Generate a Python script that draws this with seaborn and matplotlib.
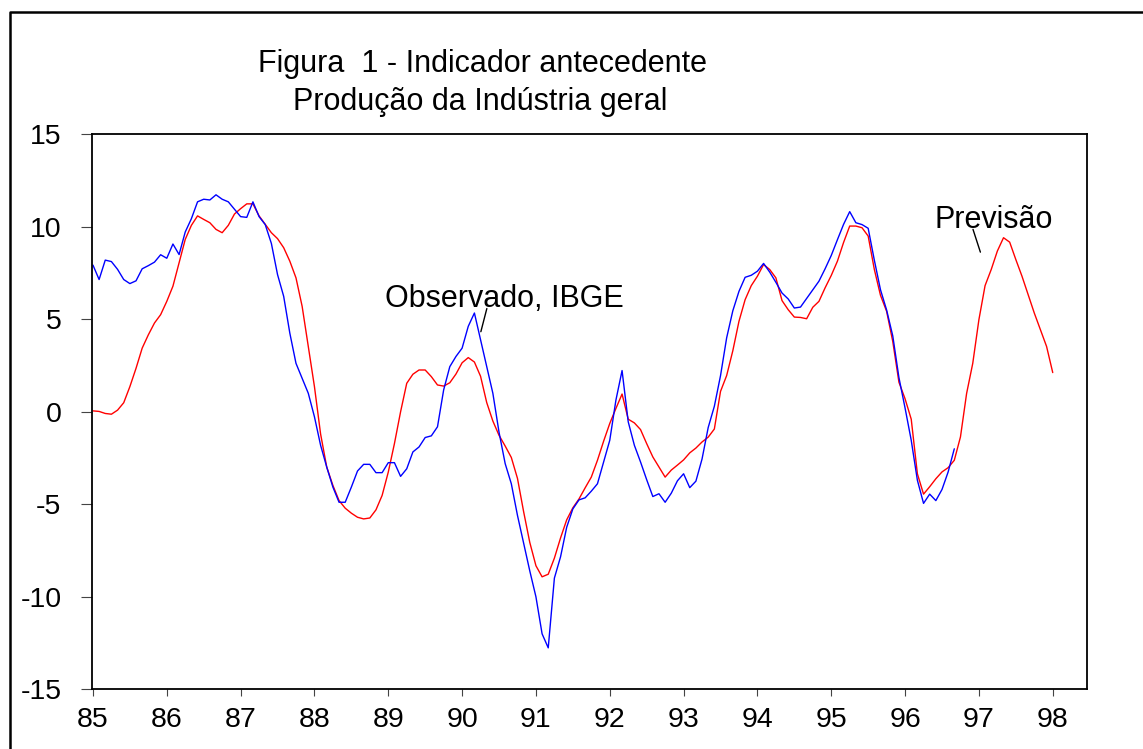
import numpy as np
import pandas as pd
import matplotlib
matplotlib.use("Agg")
import matplotlib.pyplot as plt
import seaborn as sns
from matplotlib.lines import Line2D

# ---- data (monthly, starting Jan 1985) ----
observado = [
    7.93, 7.15, 8.20, 8.12, 7.70, 7.15, 6.93, 7.08, 7.73, 7.90, 8.09, 8.49,
    8.30, 9.07, 8.50, 9.72, 10.44, 11.35, 11.49, 11.45, 11.73, 11.49, 11.35, 10.95,
    10.55, 10.51, 11.35, 10.55, 10.12, 9.10, 7.42, 6.24, 4.25, 2.62, 1.81, 1.00,
    -0.27, -1.81, -2.99, -4.07, -4.89, -4.89, -4.07, -3.20, -2.84, -2.84, -3.29, -3.29,
    -2.75, -2.75, -3.49, -3.08, -2.17, -1.90, -1.39, -1.30, -0.81, 1.18, 2.44, 2.99,
    3.44, 4.62, 5.34, 3.89, 2.44, 1.00, -1.10, -2.80, -3.89, -5.60, -7.10, -8.60,
    -10.00, -12.00, -12.76, -8.99, -7.84, -6.24, -5.25, -4.76, -4.65, -4.29, -3.89, -2.71,
    -1.54, 0.63, 2.23, -0.54, -1.81, -2.71, -3.67, -4.58, -4.43, -4.89, -4.40, -3.73,
    -3.35, -4.10, -3.75, -2.55, -0.85, 0.30, 1.95, 4.00, 5.46, 6.51, 7.27, 7.38,
    7.60, 8.02, 7.55, 7.00, 6.42, 6.10, 5.61, 5.66, 6.13, 6.60, 7.06, 7.73,
    8.45, 9.30, 10.13, 10.82, 10.22, 10.12, 9.92, 8.20, 6.60, 5.50, 4.10, 1.85,
    0.20, -1.54, -3.70, -4.95, -4.45, -4.80, -4.20, -3.25, -2.00,
]
previsao = [
    0.05, 0.02, -0.09, -0.13, 0.09, 0.49, 1.36, 2.35, 3.44, 4.16, 4.80, 5.25,
    5.97, 6.79, 8.05, 9.32, 10.08, 10.59, 10.40, 10.22, 9.86, 9.68, 10.08, 10.69,
    10.98, 11.24, 11.24, 10.59, 10.13, 9.68, 9.36, 8.87, 8.14, 7.24, 5.70, 3.53,
    1.36, -1.20, -2.99, -3.98, -4.80, -5.21, -5.48, -5.70, -5.79, -5.74, -5.30, -4.52,
    -3.26, -1.72, 0.00, 1.54, 2.03, 2.26, 2.26, 1.90, 1.45, 1.39, 1.57, 2.04,
    2.65, 2.93, 2.69, 1.92, 0.50, -0.50, -1.27, -1.85, -2.47, -3.60, -5.40, -7.06,
    -8.32, -8.92, -8.78, -7.91, -6.82, -5.84, -5.19, -4.71, -4.11, -3.53, -2.62, -1.59,
    -0.63, 0.18, 0.96, -0.40, -0.60, -0.96, -1.72, -2.44, -2.99, -3.53, -3.15, -2.88,
    -2.60, -2.22, -1.96, -1.63, -1.37, -0.93, 1.10, 1.96, 3.30, 4.89, 6.06, 6.82,
    7.33, 7.96, 7.69, 7.24, 6.01, 5.52, 5.12, 5.10, 5.03, 5.65, 5.97, 6.70,
    7.37, 8.14, 9.15, 10.04, 10.04, 9.95, 9.50, 7.70, 6.30, 5.43, 3.80, 1.60,
    0.70, -0.40, -3.35, -4.45, -4.05, -3.62, -3.25, -3.02, -2.62, -1.36, 0.99, 2.62,
    4.98, 6.82, 7.69, 8.69, 9.41, 9.17, 8.23, 7.33, 6.33, 5.34, 4.43, 3.53,
    2.12,
]
start_year = 85
year_ticks = list(range(85, 99))
year_labels = [str(y) for y in year_ticks]
y_ticks = [-15, -10, -5, 0, 5, 10, 15]

title_1 = "Figura  1 - Indicador antecedente"
title_2 = "Produção da Indústria geral"
label_obs = "Observado, IBGE"
label_prev = "Previsão"

df_obs = pd.DataFrame({"t": start_year + np.arange(len(observado)) / 12.0, "v": observado})
df_prev = pd.DataFrame({"t": start_year + np.arange(len(previsao)) / 12.0, "v": previsao})

sns.set_theme(style="white")
plt.rcParams["font.family"] = ["Liberation Sans", "DejaVu Sans"]
plt.rcParams["text.color"] = "black"
plt.rcParams["xtick.color"] = "black"
plt.rcParams["ytick.color"] = "black"
plt.rcParams["axes.labelcolor"] = "black"

W, H = 1143, 749
fig = plt.figure(figsize=(W / 100, H / 100), dpi=100)
ax = fig.add_axes([91.7 / W, 1 - 689.3 / H, (1086.7 - 91.7) / W, (689.3 - 134.3) / H])

sns.lineplot(data=df_prev, x="t", y="v", ax=ax, color="#ff0000", lw=1.0, legend=False)
sns.lineplot(data=df_obs, x="t", y="v", ax=ax, color="#0000ff", lw=1.0, legend=False)

ax.set_xlim(84.983, 98.46)
ax.set_ylim(-15, 15)
ax.set_xticks(year_ticks)
ax.set_xticklabels(year_labels)
ax.set_yticks(y_ticks)
ax.set_yticklabels([str(v) for v in y_ticks])
ax.set_xlabel("")
ax.set_ylabel("")
for s in ax.spines.values():
    s.set_color("black")
    s.set_linewidth(1.3)
ax.tick_params(axis="x", direction="out", length=5, width=0.8, color="#444444",
               labelcolor="black", labelsize=20.5, pad=8, bottom=True)
ax.tick_params(axis="y", direction="out", length=7.7, width=0.8, color="#444444",
               labelcolor="black", labelsize=20.5, pad=14, left=True)

# annotations
ax.text(88.95, 5.68, label_obs, fontsize=22, ha="left", va="baseline", color="black")
ax.plot([90.335, 90.254], [5.58, 4.33], color="black", lw=1.0)
ax.text(96.40, 9.92, label_prev, fontsize=22, ha="left", va="baseline", color="black")
ax.plot([96.92, 97.02], [9.86, 8.63], color="black", lw=1.0)

# titles
fig.text(482 / W, 1 - 72 / H, title_1, fontsize=22, ha="center", va="baseline", color="black")
fig.text(480 / W, 1 - 110 / H, title_2, fontsize=22, ha="center", va="baseline", color="black")

# outer frame (open to the right and bottom)
fx, fy = 10 / W, 1 - 12 / H
fig.add_artist(Line2D([fx, fx, 1.0], [0.0, fy, fy], transform=fig.transFigure,
                      color="black", lw=1.8))

fig.savefig("out.png", dpi=100)
